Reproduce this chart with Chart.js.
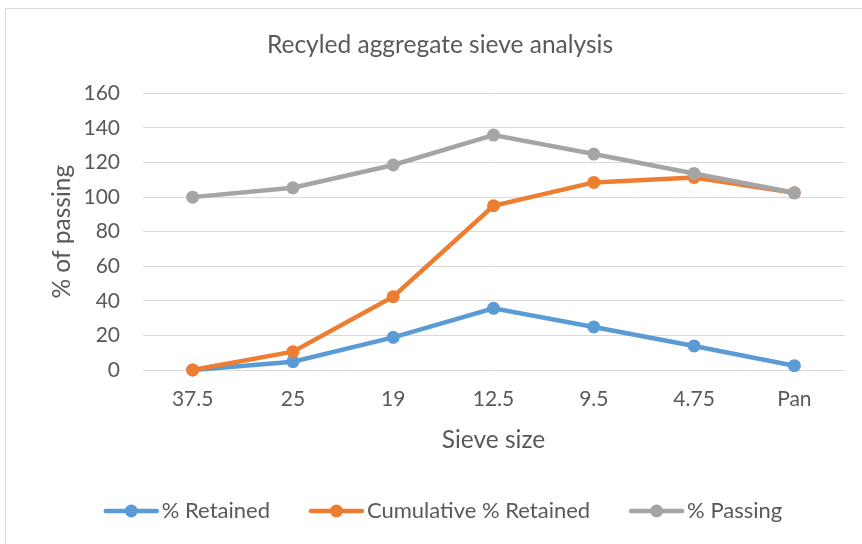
<!DOCTYPE html>
<html>
<head>
<meta charset="utf-8">
<script src="https://cdn.jsdelivr.net/npm/chart.js@4/dist/chart.umd.min.js"></script>
<style>
html,body{margin:0;padding:0;background:#fff;}
#wrap{position:relative;width:862px;height:544px;}
</style>
</head>
<body>
<div id="wrap"><canvas id="c" width="862" height="544"></canvas></div>
<script>
const categories = ["37.5", "25", "19", "12.5", "9.5", "4.75", "Pan"];
const retained = [0, 4.8, 18.9, 35.7, 24.9, 13.9, 2.5];
const cumulativeRetained = [0, 10.6, 42.4, 95.0, 108.5, 111.4, 102.5];
const passing = [100, 105.4, 118.6, 135.9, 124.9, 113.7, 102.5];
const seriesNames = ["% Retained", "Cumulative % Retained", "% Passing"];
const colors = ["#5B9BD5", "#ED7D31", "#A5A5A5"];
const yTicks = [0, 20, 40, 60, 80, 100, 120, 140, 160];

const FONT = "Lato";
const TXT = "#595959";

function ds(label, data, color, order) {
  return {
    label, data, order,
    borderColor: color, backgroundColor: color,
    borderWidth: 4.5,
    pointRadius: 6.5, pointHoverRadius: 6.5,
    pointBackgroundColor: color, pointBorderColor: color, pointBorderWidth: 0,
    tension: 0, clip: false
  };
}

const borderPlugin = {
  id: 'frame',
  afterLayout(chart) {
    if (chart.titleBlock) { chart.titleBlock.left = 35.5; }
  },
  beforeDraw(chart) {
    const ctx = chart.ctx;
    ctx.save();
    ctx.fillStyle = '#fff';
    ctx.fillRect(0, 0, chart.width, chart.height);
    ctx.strokeStyle = '#D9D9D9';
    ctx.lineWidth = 1;
    ctx.strokeRect(5.5, 8.5, 1000, 1000);
    ctx.restore();
  }
};

const legendPlugin = {
  id: 'xlLegend',
  afterDraw(chart) {
    const ctx = chart.ctx;
    ctx.save();
    ctx.font = "22px " + FONT;
    ctx.textBaseline = 'middle';
    const lineLen = 55, gapText = 3, gapItem = 39, cy = 511;
    const widths = chart.data.datasets.map(d => lineLen + gapText + ctx.measureText(d.label).width);
    const total = widths.reduce((a, b) => a + b, 0) + gapItem * (widths.length - 1);
    let x = 443 - total / 2;
    chart.data.datasets.forEach((d, i) => {
      ctx.strokeStyle = d.borderColor;
      ctx.lineWidth = 4.5;
      ctx.lineCap = 'round';
      ctx.beginPath();
      ctx.moveTo(x + 2, cy);
      ctx.lineTo(x + lineLen - 2, cy);
      ctx.stroke();
      ctx.fillStyle = d.borderColor;
      ctx.beginPath();
      ctx.arc(x + lineLen / 2, cy, 6.5, 0, Math.PI * 2);
      ctx.fill();
      ctx.fillStyle = TXT;
      ctx.fillText(d.label, x + lineLen + gapText, cy);
      x += widths[i] + gapItem;
    });
    ctx.restore();
  }
};

new Chart(document.getElementById('c'), {
  type: 'line',
  data: {
    labels: categories,
    datasets: [
      ds(seriesNames[0], retained, colors[0], 3),
      ds(seriesNames[1], cumulativeRetained, colors[1], 2),
      ds(seriesNames[2], passing, colors[2], 1)
    ]
  },
  options: {
    responsive: false,
    animation: false,
    devicePixelRatio: 1,
    layout: { padding: { top: 0, left: 0, right: 17.5, bottom: 0 } },
    plugins: {
      legend: { display: false },
      tooltip: { enabled: false },
      title: {
        display: true,
        text: "Recyled aggregate sieve analysis",
        color: TXT,
        font: { family: FONT, size: 24.5, weight: 'normal' },
        padding: { top: 30, bottom: 34 }
      }
    },
    scales: {
      x: {
        type: 'category',
        offset: true,
        grid: { display: false, drawTicks: false },
        border: { display: false },
        ticks: { color: TXT, font: { family: FONT, size: 21 }, padding: 17, maxRotation: 0, autoSkip: false },
        title: { display: true, text: "Sieve size", color: TXT, font: { family: FONT, size: 24.5 }, padding: { top: 0, bottom: 89 } },
        afterFit(scale) { scale.height = 174; }
      },
      y: {
        min: 0, max: 160,
        afterBuildTicks(scale) { scale.ticks = yTicks.map(v => ({ value: v })); },
        grid: { color: '#D9D9D9', lineWidth: 1, drawTicks: false },
        border: { display: false },
        ticks: { color: TXT, font: { family: FONT, size: 21 }, padding: 22.5 },
        title: { display: true, text: "% of passing", color: TXT, font: { family: FONT, size: 24.5 }, padding: { top: 47, bottom: 0 } },
        afterFit(scale) { scale.width = 142.5; }
      }
    }
  },
  plugins: [borderPlugin, legendPlugin]
});
</script>
</body>
</html>
